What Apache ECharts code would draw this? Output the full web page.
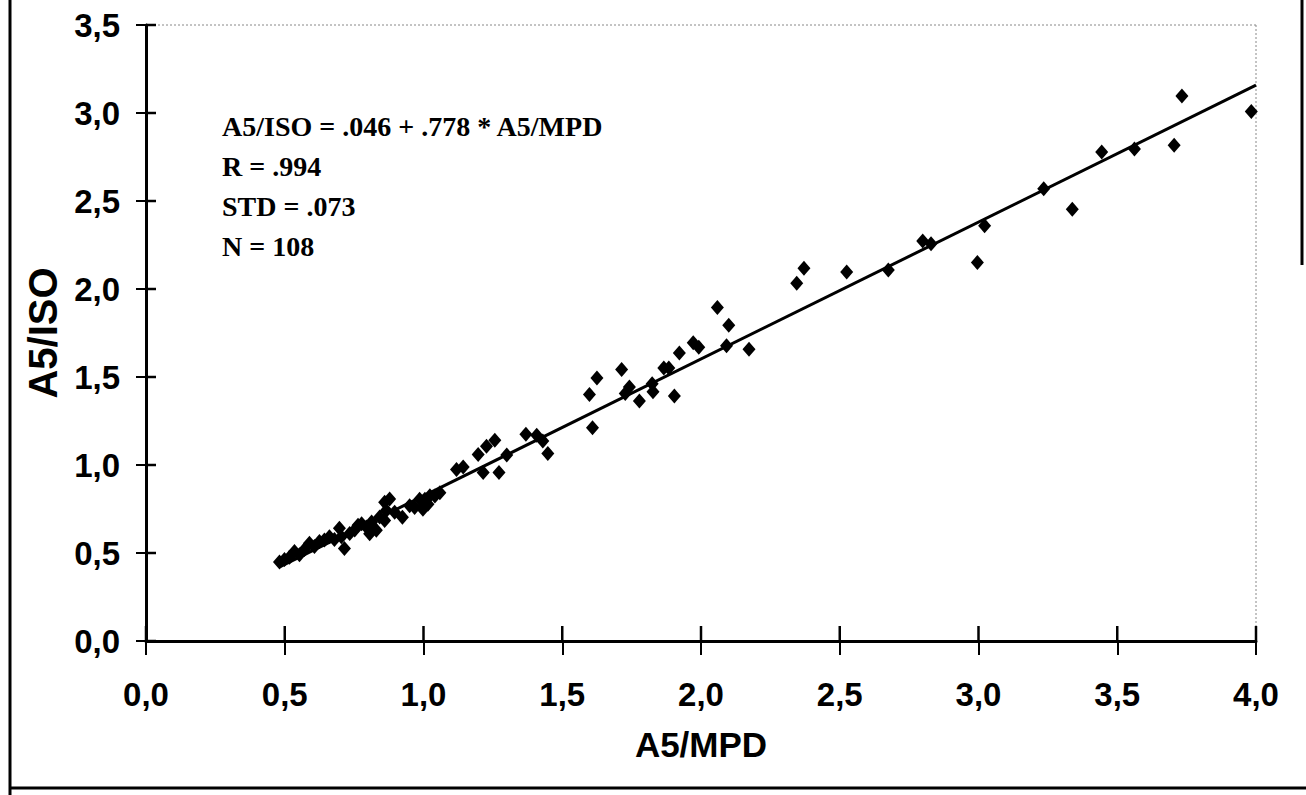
<!DOCTYPE html>
<html>
<head>
<meta charset="utf-8">
<script src="https://cdn.jsdelivr.net/npm/echarts@6/dist/echarts.min.js"></script>
<style>
html,body{margin:0;padding:0;background:#fff;}
#chart{width:1306px;height:795px;}
</style>
</head>
<body>
<div id="chart"></div>
<script>
// A5/MPD values (x)
const mpdValues = [
0.481,0.499,0.517,0.535,0.553,0.571,0.589,0.607,0.625,0.643,0.661,0.679,0.697,0.704,0.715,0.734,0.752,0.764,0.777,0.794,
0.806,0.813,0.830,0.842,0.860,0.866,0.860,0.878,0.896,0.924,0.950,0.968,0.986,0.998,1.005,1.016,1.023,1.041,1.059,
1.119,1.143,1.197,1.215,1.227,1.257,1.272,1.300,1.369,1.408,1.430,1.448,
1.598,1.609,1.625,1.714,1.727,1.742,1.778,1.824,1.827,1.866,1.884,1.904,1.922,1.972,1.992,2.059,2.092,2.100,2.173,
2.345,2.371,2.525,2.675,2.799,2.829,2.996,3.022,3.235,3.338,3.444,3.562,3.705,3.733,3.983
];
// A5/ISO values (y)
const isoValues = [
0.449,0.463,0.476,0.509,0.490,0.520,0.556,0.537,0.565,0.574,0.593,0.576,0.640,0.592,0.526,0.611,0.631,0.658,0.666,0.648,
0.610,0.676,0.629,0.704,0.685,0.742,0.789,0.807,0.732,0.703,0.769,0.759,0.806,0.749,0.806,0.777,0.825,0.824,0.843,
0.974,0.989,1.059,0.958,1.106,1.140,0.957,1.057,1.175,1.169,1.137,1.065,
1.400,1.212,1.494,1.542,1.406,1.443,1.363,1.461,1.416,1.551,1.551,1.392,1.637,1.694,1.669,1.895,1.677,1.794,1.657,
2.033,2.118,2.097,2.108,2.273,2.257,2.151,2.359,2.569,2.453,2.779,2.796,2.817,3.096,3.008
];
// Regression line endpoints
const fitX = [0.48, 4.0];
const fitY = [0.42, 3.158];
// Tick values and labels
const xTickValues = [0, 0.5, 1.0, 1.5, 2.0, 2.5, 3.0, 3.5, 4.0];
const yTickValues = [0, 0.5, 1.0, 1.5, 2.0, 2.5, 3.0, 3.5];
const xTickLabels = ['0,0','0,5','1,0','1,5','2,0','2,5','3,0','3,5','4,0'];
const yTickLabels = ['0,0','0,5','1,0','1,5','2,0','2,5','3,0','3,5'];
const statLines = ['A5/ISO = .046 + .778 * A5/MPD', 'R = .994', 'STD = .073', 'N = 108'];

const pts = mpdValues.map((x, i) => [x, isoValues[i]]);
const fitPts = fitX.map((x, i) => [x, fitY[i]]);
// inward halves of the crossing tick marks: [x, y, direction] (0 = up from x axis, 1 = right from y axis)
const innerTicks = xTickValues.map(v => [v, 0, 0]).concat(yTickValues.map(v => [0, v, 1]));

const W = 1306, H = 795;
const G = {left: 146, right: 50, top: 25, bottom: 154};
const sansB = {fontFamily: '"Liberation Sans", Arial, sans-serif', fontWeight: 'bold', color: '#000'};
const xFmt = v => xTickLabels[xTickValues.indexOf(Math.round(v * 10) / 10)] || '';
const yFmt = v => yTickLabels[yTickValues.indexOf(Math.round(v * 10) / 10)] || '';

const chart = echarts.init(document.getElementById('chart'), null, {renderer: 'svg'});
chart.setOption({
  backgroundColor: '#fff',
  animation: false,
  grid: Object.assign({}, G),
  xAxis: {
    type: 'value', position: 'bottom', min: 0, max: 4, interval: 0.5,
    axisLine: {show: true, onZero: false, lineStyle: {color: '#000', width: 3}},
    axisTick: {show: true, inside: false, length: 14, lineStyle: {color: '#000', width: 2}},
    axisLabel: Object.assign({fontSize: 33, margin: 37, formatter: xFmt}, sansB),
    splitLine: {show: false},
    name: 'A5/MPD', nameLocation: 'middle', nameGap: 86,
    nameTextStyle: Object.assign({fontSize: 35}, sansB)
  },
  yAxis: {
    type: 'value', position: 'left', min: 0, max: 3.5, interval: 0.5,
    axisLine: {show: true, onZero: false, lineStyle: {color: '#000', width: 3}},
    axisTick: {show: true, inside: false, length: 10, lineStyle: {color: '#000', width: 2}},
    axisLabel: Object.assign({fontSize: 33, margin: 26, formatter: yFmt}, sansB),
    splitLine: {show: false},
    name: 'A5/ISO', nameLocation: 'middle', nameGap: 80,
    nameTextStyle: Object.assign({fontSize: 40}, sansB)
  },
  series: [
    {
      type: 'line', data: fitPts,
      showSymbol: false, symbol: 'none',
      lineStyle: {color: '#000', width: 3}, z: 2
    },
    {
      type: 'scatter', data: pts,
      symbol: 'diamond', symbolSize: [13, 15],
      itemStyle: {color: '#000', opacity: 1}, z: 3
    },
    {
      type: 'custom', data: innerTicks, silent: true, clip: false, z: 10,
      encode: {x: 0, y: 1},
      renderItem: function (params, api) {
        const p = api.coord([api.value(0), api.value(1)]);
        const up = api.value(2) === 0;
        return {
          type: 'line',
          shape: up ? {x1: p[0], y1: p[1], x2: p[0], y2: p[1] - 15}
                    : {x1: p[0], y1: p[1], x2: p[0] + 10, y2: p[1]},
          style: {stroke: '#000', lineWidth: 2.5, fill: null}
        };
      }
    }
  ],
  graphic: [
    {type: 'line', shape: {x1: 10, y1: 0, x2: 10, y2: 795}, style: {stroke: '#000', lineWidth: 3}},
    {type: 'line', shape: {x1: 10, y1: 788, x2: 1306, y2: 788}, style: {stroke: '#000', lineWidth: 3}},
    {type: 'line', shape: {x1: 1302, y1: 0, x2: 1302, y2: 265}, style: {stroke: '#000', lineWidth: 3}},
    {type: 'line', shape: {x1: G.left, y1: G.top, x2: W - G.right, y2: G.top},
      style: {stroke: '#888', lineWidth: 1, lineDash: [2, 2]}},
    {type: 'line', shape: {x1: W - G.right, y1: G.top, x2: W - G.right, y2: H - G.bottom},
      style: {stroke: '#888', lineWidth: 1, lineDash: [2, 2]}},
    {
      type: 'group', left: 222, top: 112,
      children: statLines.map((t, i) => ({
        type: 'text', x: 0, y: i * 40,
        style: {text: t, fill: '#000', font: 'bold 28px "Liberation Serif", "Times New Roman", serif'}
      }))
    }
  ]
});
</script>
</body>
</html>
